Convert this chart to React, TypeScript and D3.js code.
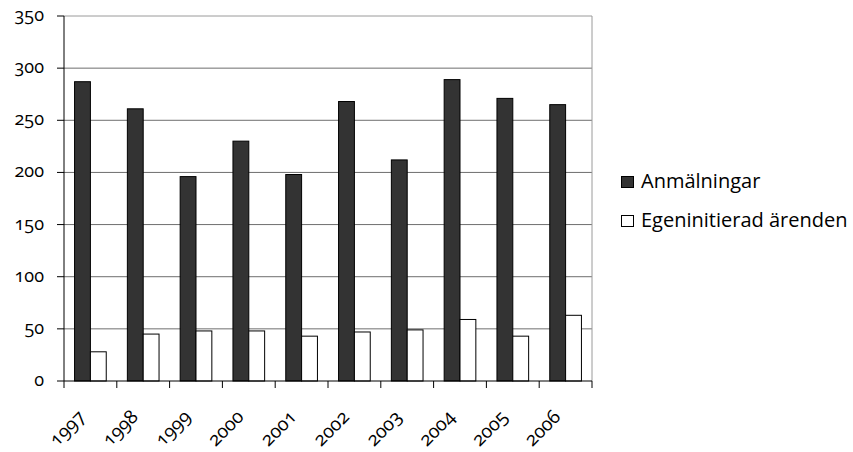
import React, { useEffect, useRef } from "react";
import * as d3 from "d3";

const years = ["1997","1998","1999","2000","2001","2002","2003","2004","2005","2006"];
const anmalningar = [287, 261, 196, 230, 198, 268, 212, 289, 271, 265];
const egeninitierad = [28, 45, 48, 48, 43, 47, 49, 59, 43, 63];
const seriesNames = ["Anmälningar", "Egeninitierad ärenden"];
const yTicks = [0, 50, 100, 150, 200, 250, 300, 350];

const W = 853, H = 452;
const left = 64, right = 592, top = 16, bottom = 381;
const FONT = "Open Sans";

export default function App() {
  const labelsRef = useRef<SVGGElement>(null);
  const x = d3.scaleBand<string>().domain(years).range([left, right]).paddingInner(0).paddingOuter(0);
  const y = d3.scaleLinear().domain([0, 350]).range([bottom, top]);
  const bw = x.bandwidth();
  const barW = bw * 0.3;
  const gap = (bw - 2 * barW) / 2;

  useEffect(() => {
    const g = d3.select(labelsRef.current);
    g.selectAll("*").remove();
    yTicks.forEach(t => {
      const tx = g.append("text")
        .attr("font-family", FONT).attr("font-size", 18)
        .style("font-feature-settings", '"onum" 1')
        .style("font-variant-numeric", "oldstyle-nums")
        .attr("y", y(t) + 5).attr("x", 0).text(String(t));
      const len = (tx.node() as SVGTextElement).getComputedTextLength();
      tx.attr("x", 44 - len);
    });
    years.forEach(yr => {
      const cx = x(yr)! + bw / 2 - 4;
      const cy = 418;
      const tx = g.append("text")
        .attr("font-family", FONT).attr("font-size", 19)
        .style("font-feature-settings", '"onum" 1')
        .style("font-variant-numeric", "oldstyle-nums")
        .attr("x", cx).attr("y", cy).text(yr);
      const len = (tx.node() as SVGTextElement).getComputedTextLength();
      tx.attr("x", cx - len).attr("transform", `rotate(-45, ${cx}, ${cy})`);
    });
  }, []);

  return (
    <svg width={W} height={H} style={{ position: "absolute", left: 0, top: 0, background: "#fff" }}>
      {yTicks.filter(t => t > 0).map(t => (
        <line key={"g" + t} x1={left} x2={right} y1={y(t)} y2={y(t)} stroke={t === 350 ? "#9a9a9a" : "#6e6e6e"} strokeWidth={1} />
      ))}
      <line x1={right} x2={right} y1={top} y2={bottom} stroke="#9a9a9a" strokeWidth={1} />
      {years.map((yr, i) => {
        const x0 = x(yr)! + gap;
        return (
          <g key={yr}>
            <rect x={x0} y={y(anmalningar[i])} width={barW} height={bottom - y(anmalningar[i])} fill="#333333" stroke="#000" strokeWidth={1} />
            <rect x={x0 + barW} y={y(egeninitierad[i])} width={barW} height={bottom - y(egeninitierad[i])} fill="#ffffff" stroke="#000" strokeWidth={1} />
          </g>
        );
      })}
      <line x1={left} x2={left} y1={top} y2={bottom} stroke="#000" strokeWidth={1} />
      <line x1={left} x2={right} y1={bottom} y2={bottom} stroke="#000" strokeWidth={1} />
      {yTicks.map(t => (
        <line key={"t" + t} x1={left - 7} x2={left} y1={y(t)} y2={y(t)} stroke="#000" />
      ))}
      {years.concat(["end"]).map((yr, i) => {
        const xx = left + i * bw;
        return <line key={"xt" + i} x1={xx} x2={xx} y1={bottom} y2={bottom + 7} stroke="#000" />;
      })}
      <g ref={labelsRef} />
      <rect x={621.5} y={176.5} width={12} height={11} fill="#333333" stroke="#000" />
      <text x={641} y={188} fontFamily={FONT} fontSize={20}>{seriesNames[0]}</text>
      <rect x={621.5} y={215.5} width={12} height={11} fill="#fff" stroke="#000" />
      <text x={641} y={227} fontFamily={FONT} fontSize={20}>{seriesNames[1]}</text>
    </svg>
  );
}
